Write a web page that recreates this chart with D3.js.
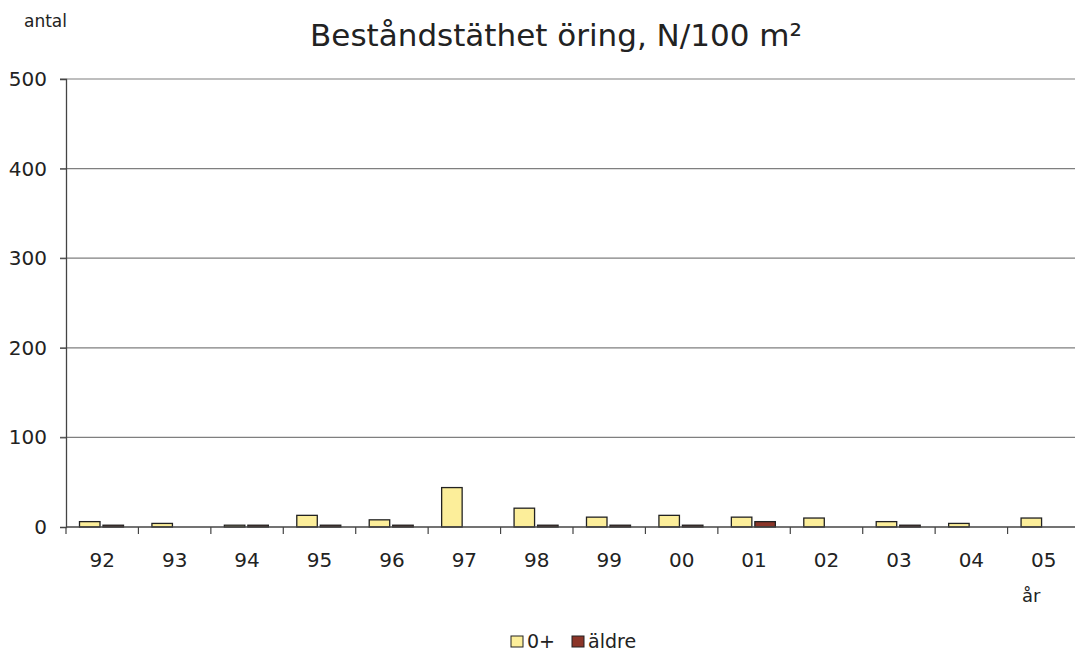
<!DOCTYPE html>
<html><head><meta charset="utf-8">
<script src="https://cdn.jsdelivr.net/npm/d3@7"></script>
<style>body{margin:0;background:#fff;overflow:hidden}svg{display:block}text{font-family:"DejaVu Sans",sans-serif;fill:#222}</style>
</head><body>
<svg id="c" width="1075" height="652"></svg>
<script>
const years = ["92","93","94","95","96","97","98","99","00","01","02","03","04","05"];
const young = [6,4,2,13,8,44,21,11,13,11,10,6,4,10];
const older = [2,0,2,2,2,0,2,2,2,6,0,2,0,0];
const yTicks = [0,100,200,300,400,500];
const seriesNames = ["0+","äldre"];
const colors = ["#FCEE9A","#8B3528"];

const svg = d3.select("#c");
const pL = 66, pR = 1080, pT = 79, pB = 527;
const x = d3.scaleBand().domain(years).range([pL, pR]).padding(0);
const y = d3.scaleLinear().domain([0,500]).range([pB, pT]);

// gridlines
svg.append("g").selectAll("line").data(yTicks.slice(1)).join("line")
  .attr("x1", pL-6).attr("x2", 1075).attr("y1", d=>y(d)).attr("y2", d=>y(d))
  .attr("stroke","#7f7f7f").attr("stroke-width",1.2);

// y axis
const ya = svg.append("g").attr("transform",`translate(${pL},0)`)
  .call(d3.axisLeft(y).tickValues(yTicks).tickSize(6).tickPadding(13).tickFormat(d3.format("d")));
ya.select(".domain").attr("stroke","#444").attr("stroke-width",1.3);
ya.selectAll(".tick line").attr("stroke","#444");
ya.selectAll("text").attr("font-size",20).style("font-family","DejaVu Sans").style("fill","#222");

// bars
const bw = 20.5;
const offs = [13.5, 37];
[young, older].forEach((vals, si) => {
  svg.append("g").selectAll("rect").data(years).join("rect")
    .attr("x", (d)=>x(d)+offs[si]).attr("width", bw)
    .attr("y", (d,i)=>y(vals[i])).attr("height", (d,i)=>pB - y(vals[i]))
    .attr("fill", colors[si]).attr("stroke","#222").attr("stroke-width",1.3)
    .attr("display", (d,i)=>vals[i] > 0 ? null : "none");
});

// x axis
const xa = svg.append("g").attr("transform",`translate(0,${pB})`)
  .call(d3.axisBottom(x).tickSize(0).tickPadding(26));
xa.select(".domain").attr("stroke","#444").attr("stroke-width",1.3).attr("d", `M${pL},0H1075`);
xa.selectAll("text").attr("font-size",20).style("font-family","DejaVu Sans").style("fill","#222");
// category boundary ticks
svg.append("g").selectAll("line").data(years.concat(["end"])).join("line")
  .attr("x1",(d,i)=>pL + i*x.bandwidth()).attr("x2",(d,i)=>pL + i*x.bandwidth())
  .attr("y1",pB).attr("y2",pB+7).attr("stroke","#444").attr("stroke-width",1.2);

// labels
svg.append("text").attr("x",556).attr("y",46).attr("text-anchor","middle").attr("font-size",31).text("Beståndstäthet öring, N/100 m²");
svg.append("text").attr("x",24).attr("y",27).attr("font-size",17).text("antal");
svg.append("text").attr("x",1022).attr("y",602).attr("font-size",18).text("år");

// legend
const lg = svg.append("g");
const items = [{x:511, tx:527},{x:572, tx:588}];
items.forEach((it,i)=>{
  lg.append("rect").attr("x",it.x).attr("y",636).attr("width",12).attr("height",11)
    .attr("fill",colors[i]).attr("stroke","#222").attr("stroke-width",1);
  lg.append("text").attr("x",it.tx).attr("y",648).attr("font-size",19).text(seriesNames[i]);
});
</script>
</body></html>
